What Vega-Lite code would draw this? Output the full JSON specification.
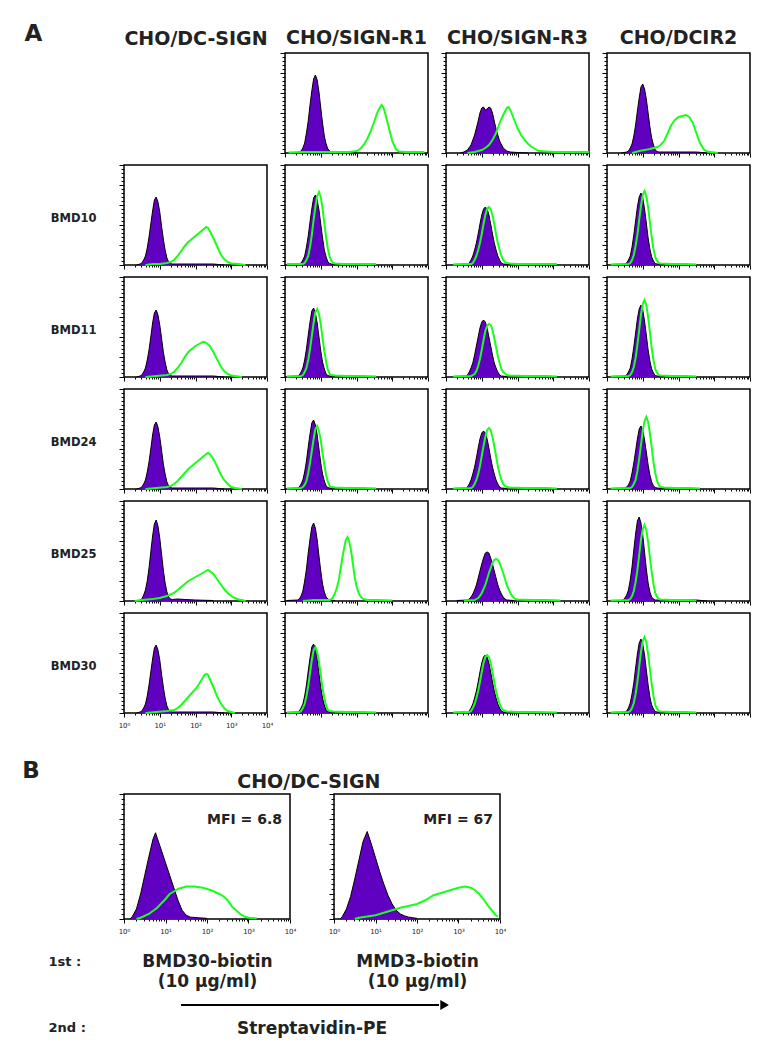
{
"$schema": "https://vega.github.io/schema/vega-lite/v6.json",
"background": "white",
"padding": {"left": 22, "top": 22, "right": 5, "bottom": 5},
"config": {
 "font": "DejaVu Sans",
 "view": {"stroke": "black", "strokeWidth": 1.5},
 "axis": {"grid": false, "domain": false, "labels": false, "ticks": true, "tickColor": "black", "tickWidth": 1, "titleFont": "DejaVu Sans", "titleFontWeight": "bold", "titleColor": "#222", "labelFont": "DejaVu Sans", "labelColor": "#222"},
 "title": {"font": "DejaVu Sans", "fontWeight": "bold", "color": "#222", "fontSize": 19, "offset": 5}
},
"datasets": {
 "h": [
  {"p":"a02","s":"c","x":[1.995,2.512,2.818,3.162,3.548,3.981,4.467,5.012,5.623,6.31,7.079,7.943,8.913,10,11.22,12.59,14.13,15.85,17.78,19.95,25.12,63.1,100],"y":[0,1,2,5,10,20,32,48,62,74,78,73,61,45,30,17,9,4,2,1,1,0.5,0]},
  {"p":"a02","s":"g","x":[1.259,3.162,10,31.62,63.1,100,125.9,158.5,199.5,251.2,316.2,398.1,501.2,562.3,631,794.3,1000,1259,1585,2512,7943],"y":[0.5,1,1,1,1,2,4,8,14,22,32,42,48,46,40,26,12,4,1.5,1,1]},
  {"p":"a03","s":"c","x":[2.512,3.162,3.981,5.012,6.31,7.943,8.913,10,11.22,12.59,14.13,15.85,17.78,19.95,22.39,25.12,31.62,39.81,50.12,63.1,100,199.5],"y":[0,1,3,8,18,32,40,45,46,43,44,46,45,40,32,24,12,5,2,1,0.5,0]},
  {"p":"a03","s":"g","x":[3.981,6.31,10,12.59,15.85,19.95,25.12,31.62,39.81,50.12,56.23,63.1,79.43,100,125.9,158.5,199.5,251.2,316.2,398.1,631,1000,3162,10000],"y":[0,1,3,5,8,13,20,30,38,45,46,43,34,25,18,13,9,6,4,2,1.5,1,1,1]},
  {"p":"a04","s":"c","x":[2.512,3.548,3.981,4.467,5.012,5.623,6.31,7.079,7.943,8.913,10,11.22,12.59,14.13,15.85,17.78,19.95,22.39,25.12,28.18,39.81,100,316.2,631],"y":[0,1,2,5,9,17,28,42,55,66,69,64,54,40,26,15,8,3,1.5,1,1,1,1,0]},
  {"p":"a04","s":"g","x":[5.012,7.943,15.85,25.12,31.62,39.81,50.12,63.1,79.43,100,125.9,158.5,199.5,251.2,316.2,398.1,501.2,631,794.3,1259],"y":[0,2,4,6,8,12,20,28,33,36,37,38,36,30,20,10,4,1.5,1,0]},
  {"p":"a11","s":"c","x":[2.239,2.818,3.162,3.548,3.981,4.467,5.012,5.623,6.31,7.079,7.943,8.913,10,11.22,12.59,14.13,15.85,17.78,19.95,22.39,31.62,100,316.2,631],"y":[0,1,2,5,9,17,28,41,54,65,68,63,53,39,26,15,7,3,1.5,1,1,1,1,0]},
  {"p":"a11","s":"g","x":[3.981,6.31,10,15.85,19.95,25.12,31.62,39.81,50.12,63.1,79.43,100,125.9,158.5,199.5,223.9,251.2,316.2,398.1,501.2,631,794.3,1000,1585,2512],"y":[0,1,1,2,3,5,9,14,19,23,26,29,32,35,38,37,34,27,19,11,6,3,1.5,1,0]},
  {"p":"a12","s":"c","x":[1.122,2.512,2.818,3.162,3.548,3.981,4.467,5.012,5.623,6.31,7.079,7.943,8.913,10,11.22,12.59,14.13,15.85,17.78,19.95,31.62],"y":[0.5,1,2,5,9,18,29,43,56,67,70,65,55,41,27,15,8,3,1.5,1,0.5]},
  {"p":"a12","s":"g","x":[1.122,3.162,3.548,3.981,4.467,5.012,5.623,6.31,7.079,7.943,8.913,10,11.22,12.59,14.13,15.85,17.78,19.95,22.39,25.12,39.81,100,354.8],"y":[1,1,2,5,9,18,30,45,58,69,73,68,57,42,28,16,8,4,2,1.5,1,1,1]},
  {"p":"a13","s":"c","x":[1.585,3.548,3.981,4.467,5.012,5.623,6.31,7.079,7.943,8.913,10,11.22,12.59,14.13,15.85,17.78,19.95,22.39,25.12,28.18,31.62,35.48,39.81,63.1],"y":[0.5,1,1,2,5,9,15,22,31,41,50,56,58,56,50,41,31,22,15,9,5,2,1,0.5]},
  {"p":"a13","s":"g","x":[1.585,4.467,5.012,5.623,6.31,7.079,7.943,8.913,10,11.22,12.59,14.13,15.85,17.78,19.95,22.39,25.12,28.18,31.62,35.48,39.81,44.67,50.12,63.1,100,316.2,1259],"y":[0.5,1,1,2,5,9,15,22,31,41,50,56,58,56,50,41,31,22,15,9,5,3,2,1.5,1,1,1]},
  {"p":"a14","s":"c","x":[1.259,3.162,3.548,3.981,4.467,5.012,5.623,6.31,7.079,7.943,8.913,10,11.22,12.59,14.13,15.85,17.78,19.95,22.39,25.12,39.81],"y":[0.5,1,2,5,9,18,30,44,58,68,72,67,56,42,27,16,8,4,1.5,1,0.5]},
  {"p":"a14","s":"g","x":[1.259,3.981,4.467,5.012,5.623,6.31,7.079,7.943,8.913,10,11.22,12.59,14.13,15.85,17.78,19.95,22.39,25.12,28.18,31.62,63.1,158.5,316.2],"y":[0.5,1,2,5,10,19,30,45,59,70,74,69,58,43,28,16,8,4,2,1.5,1,1,0.5]},
  {"p":"a21","s":"c","x":[2.239,2.818,3.162,3.548,3.981,4.467,5.012,5.623,6.31,7.079,7.943,8.913,10,11.22,12.59,14.13,15.85,17.78,19.95,22.39,31.62,100,316.2,631],"y":[0,1,2,5,9,17,27,40,54,64,67,62,52,39,25,15,7,3,1.5,1,1,1,1,0]},
  {"p":"a21","s":"g","x":[3.981,7.943,15.85,19.95,25.12,31.62,39.81,50.12,63.1,79.43,100,125.9,158.5,177.8,199.5,251.2,316.2,398.1,501.2,631,794.3,1000,1259,1995],"y":[0,1,2,3,5,9,14,20,25,28,31,33,35,35,34,31,25,18,11,6,3,1.5,1,0]},
  {"p":"a22","s":"c","x":[1.122,2.239,2.512,2.818,3.162,3.548,3.981,4.467,5.012,5.623,6.31,7.079,7.943,8.913,10,11.22,12.59,14.13,15.85,17.78,25.12],"y":[0.5,1,2,5,9,17,28,42,55,66,69,64,54,40,26,15,8,3,1.5,1,0.5]},
  {"p":"a22","s":"g","x":[1.122,2.818,3.162,3.548,3.981,4.467,5.012,5.623,6.31,7.079,7.943,8.913,10,11.22,12.59,14.13,15.85,17.78,19.95,25.12,50.12,158.5,354.8],"y":[0.5,1,2,5,9,17,28,41,54,65,68,63,53,39,26,15,7,3,2,1.5,1,1,0.5]},
  {"p":"a23","s":"c","x":[1.585,3.548,3.981,4.467,5.012,5.623,6.31,7.079,7.943,8.913,10,11.22,12.59,14.13,15.85,17.78,19.95,22.39,25.12,28.18,31.62,35.48,50.12],"y":[0.5,1,2,5,9,14,22,31,40,49,55,57,55,49,40,31,22,14,9,5,2,1,0.5]},
  {"p":"a23","s":"g","x":[1.585,5.012,6.31,7.079,7.943,8.913,10,11.22,12.59,14.13,15.85,17.78,19.95,22.39,25.12,28.18,31.62,35.48,39.81,50.12,63.1,158.5,631,1259],"y":[0.5,1,3,6,11,18,27,37,46,51,53,52,47,39,30,21,14,8,5,2,1.5,1,1,0.5]},
  {"p":"a24","s":"c","x":[1.259,3.162,3.548,3.981,4.467,5.012,5.623,6.31,7.079,7.943,8.913,10,11.22,12.59,14.13,15.85,17.78,19.95,22.39,25.12,39.81],"y":[0.5,1,2,5,9,18,30,44,58,68,72,67,56,42,27,16,8,4,1.5,1,0.5]},
  {"p":"a24","s":"g","x":[1.259,3.981,4.467,5.012,5.623,6.31,7.079,7.943,8.913,10,11.22,12.59,14.13,15.85,17.78,19.95,22.39,25.12,28.18,31.62,63.1,158.5,316.2],"y":[0.5,1,2,5,10,19,32,47,62,73,77,72,60,45,29,17,8,4,2,1.5,1,1,0.5]},
  {"p":"a31","s":"c","x":[2.239,2.818,3.162,3.548,3.981,4.467,5.012,5.623,6.31,7.079,7.943,8.913,10,11.22,12.59,14.13,15.85,17.78,19.95,22.39,31.62,100,316.2,631],"y":[0,1,2,5,9,17,27,40,54,64,67,62,52,39,25,15,7,3,1.5,1,1,1,1,0]},
  {"p":"a31","s":"g","x":[3.981,7.943,15.85,19.95,25.12,31.62,39.81,50.12,63.1,79.43,100,125.9,158.5,199.5,223.9,251.2,316.2,398.1,501.2,631,794.3,1000,1259,1995],"y":[0,1,2,3,5,8,12,16,20,23,26,29,32,35,36,35,30,23,15,9,5,2,1,0]},
  {"p":"a32","s":"c","x":[1.122,2.239,2.512,2.818,3.162,3.548,3.981,4.467,5.012,5.623,6.31,7.079,7.943,8.913,10,11.22,12.59,14.13,15.85,17.78,25.12],"y":[0.5,1,2,5,9,17,28,42,55,66,69,64,54,40,26,15,8,3,1.5,1,0.5]},
  {"p":"a32","s":"g","x":[1.122,2.818,3.162,3.548,3.981,4.467,5.012,5.623,6.31,7.079,7.943,8.913,10,11.22,12.59,14.13,15.85,17.78,19.95,25.12,50.12,158.5,354.8],"y":[0.5,1,2,4,8,16,26,38,50,60,63,58,49,36,24,14,7,3,2,1.5,1,1,0.5]},
  {"p":"a33","s":"c","x":[1.585,3.548,3.981,4.467,5.012,5.623,6.31,7.079,7.943,8.913,10,11.22,12.59,14.13,15.85,17.78,19.95,22.39,25.12,28.18,31.62,35.48,50.12],"y":[0.5,1,2,5,9,15,22,31,41,50,56,58,56,50,41,31,22,15,9,5,2,1,0.5]},
  {"p":"a33","s":"g","x":[1.585,5.012,5.623,6.31,7.079,7.943,8.913,10,11.22,12.59,14.13,15.85,17.78,19.95,22.39,25.12,28.18,31.62,35.48,39.81,44.67,50.12,63.1,158.5,631,1259],"y":[0.5,1,2,5,9,15,23,33,43,52,59,61,59,52,43,33,23,15,9,5,3,2,1.5,1,1,0.5]},
  {"p":"a34","s":"c","x":[1.259,3.162,3.548,3.981,4.467,5.012,5.623,6.31,7.079,7.943,8.913,10,11.22,12.59,14.13,15.85,17.78,19.95,22.39,25.12,39.81],"y":[0.5,1,2,4,8,16,26,38,50,60,63,59,49,37,24,14,7,3,1.5,1,0.5]},
  {"p":"a34","s":"g","x":[1.259,4.467,5.012,5.623,6.31,7.079,7.943,8.913,10,11.22,12.59,14.13,15.85,17.78,19.95,22.39,25.12,28.18,31.62,39.81,79.43,199.5,398.1],"y":[0.5,1,2,5,9,18,30,44,58,68,72,67,56,42,27,16,8,4,2,1.5,1,1,0.5]},
  {"p":"a41","s":"c","x":[2.239,2.818,3.162,3.548,3.981,4.467,5.012,5.623,6.31,7.079,7.943,8.913,10,11.22,12.59,14.13,15.85,17.78,19.95,22.39,31.62,50.12,100,316.2],"y":[0,1,2,6,11,20,33,49,65,77,81,75,63,47,31,18,9,4,2,1.5,2,1.5,1,0.5]},
  {"p":"a41","s":"g","x":[1.995,3.162,6.31,10,15.85,25.12,31.62,39.81,50.12,63.1,79.43,100,125.9,158.5,199.5,223.9,251.2,316.2,398.1,501.2,631,794.3,1000,1259,1585,1995,2512],"y":[0,1,2,3,5,8,11,14,17,20,22,24,26,28,30,31,30,27,22,17,12,8,5,3,1.5,1,0]},
  {"p":"a42","s":"c","x":[1.122,2.239,2.512,2.818,3.162,3.548,3.981,4.467,5.012,5.623,6.31,7.079,7.943,8.913,10,11.22,12.59,14.13,15.85,17.78,25.12],"y":[0.5,1,2,5,10,20,32,48,62,74,78,73,61,45,30,17,9,4,2,1,0.5]},
  {"p":"a42","s":"g","x":[3.162,6.31,12.59,17.78,19.95,22.39,25.12,28.18,31.62,35.48,39.81,44.67,50.12,56.23,63.1,70.79,79.43,89.13,100,112.2,125.9,141.3,158.5,199.5,398.1,1000],"y":[0,1,1,1,2,4,8,13,20,31,42,52,61,64,59,50,37,24,15,9,5,3,2,1,1,0.5]},
  {"p":"a43","s":"c","x":[1.995,3.981,4.467,5.012,5.623,6.31,7.079,7.943,8.913,10,11.22,12.59,14.13,15.85,17.78,19.95,22.39,25.12,28.18,31.62,35.48,39.81,44.67,50.12,79.43],"y":[0.5,1,2,4,7,11,16,23,30,37,43,48,49,48,43,37,30,23,16,11,7,4,2,1,0.5]},
  {"p":"a43","s":"g","x":[3.162,6.31,7.079,7.943,8.913,10,11.22,12.59,14.13,15.85,17.78,19.95,22.39,25.12,28.18,31.62,35.48,39.81,44.67,50.12,56.23,63.1,70.79,79.43,89.13,100,251.2,631,1585],"y":[0.5,1,2,3,5,8,12,16,22,28,33,38,41,42,41,38,33,28,22,16,12,8,5,3,2,1.5,1,1,0.5]},
  {"p":"a44","s":"c","x":[2.239,2.818,3.162,3.548,3.981,4.467,5.012,5.623,6.31,7.079,7.943,8.913,10,11.22,12.59,14.13,15.85,17.78,19.95,22.39,31.62,100,316.2,631],"y":[0,1,3,6,11,21,34,51,67,80,84,78,66,49,32,18,9,4,2,1,1,1,1,0]},
  {"p":"a44","s":"g","x":[1.259,3.981,4.467,5.012,5.623,6.31,7.079,7.943,8.913,10,11.22,12.59,14.13,15.85,17.78,19.95,22.39,25.12,28.18,31.62,63.1,158.5,316.2],"y":[0.5,1,2,5,10,19,31,46,61,72,76,71,59,44,29,17,8,4,2,1.5,1,1,0.5]},
  {"p":"a51","s":"c","x":[2.239,2.818,3.162,3.548,3.981,4.467,5.012,5.623,6.31,7.079,7.943,8.913,10,11.22,12.59,14.13,15.85,17.78,19.95,22.39,31.62,100,316.2,631],"y":[0,1,2,5,9,17,28,41,54,65,68,63,53,39,26,15,7,3,1.5,1,1,1,1,0]},
  {"p":"a51","s":"g","x":[3.981,7.943,15.85,25.12,31.62,39.81,50.12,63.1,79.43,100,125.9,158.5,177.8,199.5,223.9,251.2,316.2,398.1,501.2,631,794.3,1000,1259],"y":[0,1,2,3,5,8,12,16,20,24,29,35,38,39,38,34,26,17,10,5,2,1,0]},
  {"p":"a52","s":"c","x":[1.122,2.239,2.512,2.818,3.162,3.548,3.981,4.467,5.012,5.623,6.31,7.079,7.943,8.913,10,11.22,12.59,14.13,15.85,17.78,25.12],"y":[0.5,1,2,5,9,17,28,42,55,66,69,64,54,40,26,15,8,3,1.5,1,0.5]},
  {"p":"a52","s":"g","x":[1.122,2.512,2.818,3.162,3.548,3.981,4.467,5.012,5.623,6.31,7.079,7.943,8.913,10,11.22,12.59,14.13,15.85,17.78,22.39,50.12,158.5,354.8],"y":[0.5,1,2,5,9,17,27,40,53,63,66,61,51,38,25,15,7,3,2,1.5,1,1,0.5]},
  {"p":"a53","s":"c","x":[1.585,3.548,3.981,4.467,5.012,5.623,6.31,7.079,7.943,8.913,10,11.22,12.59,14.13,15.85,17.78,19.95,22.39,25.12,28.18,31.62,35.48,39.81,63.1],"y":[0.5,1,1,2,5,9,15,22,31,41,50,56,58,56,50,41,31,22,15,9,5,2,1,0.5]},
  {"p":"a53","s":"g","x":[1.585,3.981,4.467,5.012,5.623,6.31,7.079,7.943,8.913,10,11.22,12.59,14.13,15.85,17.78,19.95,22.39,25.12,28.18,31.62,35.48,39.81,50.12,100,316.2,1259],"y":[0.5,1,1,2,5,9,15,22,31,41,50,56,58,56,50,41,31,22,15,9,5,3,1.5,1,1,0.5]},
  {"p":"a54","s":"c","x":[1.259,3.162,3.548,3.981,4.467,5.012,5.623,6.31,7.079,7.943,8.913,10,11.22,12.59,14.13,15.85,17.78,19.95,22.39,25.12,39.81],"y":[0.5,1,2,5,10,19,30,45,59,70,74,69,58,43,28,16,8,4,1.5,1,0.5]},
  {"p":"a54","s":"g","x":[1.259,3.981,4.467,5.012,5.623,6.31,7.079,7.943,8.913,10,11.22,12.59,14.13,15.85,17.78,19.95,22.39,25.12,28.18,31.62,63.1,158.5,316.2],"y":[0.5,1,2,5,10,19,31,46,61,72,76,71,59,44,29,17,8,4,2,1.5,1,1,0.5]},
  {"p":"b1","s":"c","x":[1.413,1.585,1.995,2.512,3.162,3.981,5.012,5.754,6.31,7.943,10,12.59,15.85,19.95,25.12,31.62,39.81,63.1,100],"y":[0,2,8,20,35,50,64,69,65,55,45,35,25,15,7,3,1.5,1,0.5]},
  {"p":"b1","s":"g","x":[1.995,2.512,3.981,6.31,10,12.59,15.85,19.95,25.12,31.62,50.12,79.43,125.9,199.5,251.2,316.2,398.1,501.2,631,794.3,1000,1585],"y":[0,1,4,9,16,20,22,24,25,26,26,25,23,20,18,15,10,7,4,2,1,0.5]},
  {"p":"b2","s":"c","x":[1.413,1.585,1.995,2.512,3.162,3.981,5.012,6.31,7.943,10,12.59,15.85,19.95,25.12,31.62,39.81,50.12,63.1,79.43,100],"y":[0,2,8,18,32,47,62,70,60,49,38,28,19,12,7,4,2.5,1.5,1,0.5]},
  {"p":"b2","s":"g","x":[3.162,3.981,6.31,10,15.85,25.12,39.81,100,158.5,251.2,398.1,631,1000,1413,1995,2512,3162,3981,5012,6310,7943,8913],"y":[0,1,2,3,5,7,9,12,15,19,21,23,25,26,25,23,20,16,11,7,3,2]}
 ],
 "arrow": [{"k":"s","t":0.152},{"k":"s","t":0.84},{"k":"h","t":0.855}]
},
"spacing": 30,
"vconcat": [
 {
  "columns": 4,
  "bounds": "flush",
  "spacing": {"row": 12, "column": 18},
  "concat": [
   {"width":143,"height":100,"view":{"stroke":null},"data":{"values":[]},"mark":"point",
    "encoding":{
     "x":{"field":"x","type":"quantitative","scale":{"domain":[0,1]},"axis":{"orient":"top","title":"CHO/DC-SIGN","titleFontSize":19,"titleAlign":"center","titleBaseline":"bottom","titleX":71.5,"titleY":-5,"ticks":false,"labels":false}},
     "y":{"field":"y","type":"quantitative","scale":{"domain":[0,100]},"axis":{"title":"A","titleAngle":0,"titleAlign":"left","titleBaseline":"middle","titleX":-100,"titleY":-20,"titleFontSize":23,"ticks":false,"labels":false}}}},
   {"width":143,"height":100,"title":{"text":"CHO/SIGN-R1"},"data":{"name":"h"},"transform":[{"filter":"datum.p=='a02'"},{"flatten":["x","y"]}],
    "encoding":{"x":{"field":"x","type":"quantitative","scale":{"type":"log","domain":[1,10000],"nice":false},"axis":{"title":null,"values":[1,2,3,4,5,6,7,8,9,10,20,30,40,50,60,70,80,90,100,200,300,400,500,600,700,800,900,1000,2000,3000,4000,5000,6000,7000,8000,9000,10000],"tickSize":{"condition":{"test":"indexof([1,10,100,1000,10000],datum.value)>=0","value":4},"value":2}}},
     "y":{"field":"y","type":"quantitative","scale":{"domain":[0,100],"nice":false},"axis":{"title":null,"values":[0,4,8,12,16,20,24,28,32,36,40,44,48,52,56,60,64,68,72,76,80,84,88,92,96,100],"tickSize":{"condition":{"test":"datum.value%20==0","value":5},"value":3}}}},
    "layer":[{"transform":[{"filter":"datum.s=='c'"}],"mark":{"type":"area","color":"#6000c0","opacity":1,"line":{"color":"black","strokeWidth":1}}},{"transform":[{"filter":"datum.s=='g'"}],"mark":{"type":"line","color":"#1aff1a","strokeWidth":2}}]},
   {"width":143,"height":100,"title":{"text":"CHO/SIGN-R3"},"data":{"name":"h"},"transform":[{"filter":"datum.p=='a03'"},{"flatten":["x","y"]}],
    "encoding":{"x":{"field":"x","type":"quantitative","scale":{"type":"log","domain":[1,10000],"nice":false},"axis":{"title":null,"values":[1,2,3,4,5,6,7,8,9,10,20,30,40,50,60,70,80,90,100,200,300,400,500,600,700,800,900,1000,2000,3000,4000,5000,6000,7000,8000,9000,10000],"tickSize":{"condition":{"test":"indexof([1,10,100,1000,10000],datum.value)>=0","value":4},"value":2}}},
     "y":{"field":"y","type":"quantitative","scale":{"domain":[0,100],"nice":false},"axis":{"title":null,"values":[0,4,8,12,16,20,24,28,32,36,40,44,48,52,56,60,64,68,72,76,80,84,88,92,96,100],"tickSize":{"condition":{"test":"datum.value%20==0","value":5},"value":3}}}},
    "layer":[{"transform":[{"filter":"datum.s=='c'"}],"mark":{"type":"area","color":"#6000c0","opacity":1,"line":{"color":"black","strokeWidth":1}}},{"transform":[{"filter":"datum.s=='g'"}],"mark":{"type":"line","color":"#1aff1a","strokeWidth":2}}]},
   {"width":143,"height":100,"title":{"text":"CHO/DCIR2"},"data":{"name":"h"},"transform":[{"filter":"datum.p=='a04'"},{"flatten":["x","y"]}],
    "encoding":{"x":{"field":"x","type":"quantitative","scale":{"type":"log","domain":[1,10000],"nice":false},"axis":{"title":null,"values":[1,2,3,4,5,6,7,8,9,10,20,30,40,50,60,70,80,90,100,200,300,400,500,600,700,800,900,1000,2000,3000,4000,5000,6000,7000,8000,9000,10000],"tickSize":{"condition":{"test":"indexof([1,10,100,1000,10000],datum.value)>=0","value":4},"value":2}}},
     "y":{"field":"y","type":"quantitative","scale":{"domain":[0,100],"nice":false},"axis":{"title":null,"values":[0,4,8,12,16,20,24,28,32,36,40,44,48,52,56,60,64,68,72,76,80,84,88,92,96,100],"tickSize":{"condition":{"test":"datum.value%20==0","value":5},"value":3}}}},
    "layer":[{"transform":[{"filter":"datum.s=='c'"}],"mark":{"type":"area","color":"#6000c0","opacity":1,"line":{"color":"black","strokeWidth":1}}},{"transform":[{"filter":"datum.s=='g'"}],"mark":{"type":"line","color":"#1aff1a","strokeWidth":2}}]},

   {"width":143,"height":100,"data":{"name":"h"},"transform":[{"filter":"datum.p=='a11'"},{"flatten":["x","y"]}],
    "encoding":{"x":{"field":"x","type":"quantitative","scale":{"type":"log","domain":[1,10000],"nice":false},"axis":{"title":null,"values":[1,2,3,4,5,6,7,8,9,10,20,30,40,50,60,70,80,90,100,200,300,400,500,600,700,800,900,1000,2000,3000,4000,5000,6000,7000,8000,9000,10000],"tickSize":{"condition":{"test":"indexof([1,10,100,1000,10000],datum.value)>=0","value":4},"value":2}}},
     "y":{"field":"y","type":"quantitative","scale":{"domain":[0,100],"nice":false},"axis":{"title":"BMD10","titleAngle":0,"titleAlign":"right","titleBaseline":"middle","titleX":-28,"titleY":53,"titleFontSize":11.5,"values":[0,4,8,12,16,20,24,28,32,36,40,44,48,52,56,60,64,68,72,76,80,84,88,92,96,100],"tickSize":{"condition":{"test":"datum.value%20==0","value":5},"value":3}}}},
    "layer":[{"transform":[{"filter":"datum.s=='c'"}],"mark":{"type":"area","color":"#6000c0","opacity":1,"line":{"color":"black","strokeWidth":1}}},{"transform":[{"filter":"datum.s=='g'"}],"mark":{"type":"line","color":"#1aff1a","strokeWidth":2}}]},
   {"width":143,"height":100,"data":{"name":"h"},"transform":[{"filter":"datum.p=='a12'"},{"flatten":["x","y"]}],
    "encoding":{"x":{"field":"x","type":"quantitative","scale":{"type":"log","domain":[1,10000],"nice":false},"axis":{"title":null,"values":[1,2,3,4,5,6,7,8,9,10,20,30,40,50,60,70,80,90,100,200,300,400,500,600,700,800,900,1000,2000,3000,4000,5000,6000,7000,8000,9000,10000],"tickSize":{"condition":{"test":"indexof([1,10,100,1000,10000],datum.value)>=0","value":4},"value":2}}},
     "y":{"field":"y","type":"quantitative","scale":{"domain":[0,100],"nice":false},"axis":{"title":null,"values":[0,4,8,12,16,20,24,28,32,36,40,44,48,52,56,60,64,68,72,76,80,84,88,92,96,100],"tickSize":{"condition":{"test":"datum.value%20==0","value":5},"value":3}}}},
    "layer":[{"transform":[{"filter":"datum.s=='c'"}],"mark":{"type":"area","color":"#6000c0","opacity":1,"line":{"color":"black","strokeWidth":1}}},{"transform":[{"filter":"datum.s=='g'"}],"mark":{"type":"line","color":"#1aff1a","strokeWidth":2}}]},
   {"width":143,"height":100,"data":{"name":"h"},"transform":[{"filter":"datum.p=='a13'"},{"flatten":["x","y"]}],
    "encoding":{"x":{"field":"x","type":"quantitative","scale":{"type":"log","domain":[1,10000],"nice":false},"axis":{"title":null,"values":[1,2,3,4,5,6,7,8,9,10,20,30,40,50,60,70,80,90,100,200,300,400,500,600,700,800,900,1000,2000,3000,4000,5000,6000,7000,8000,9000,10000],"tickSize":{"condition":{"test":"indexof([1,10,100,1000,10000],datum.value)>=0","value":4},"value":2}}},
     "y":{"field":"y","type":"quantitative","scale":{"domain":[0,100],"nice":false},"axis":{"title":null,"values":[0,4,8,12,16,20,24,28,32,36,40,44,48,52,56,60,64,68,72,76,80,84,88,92,96,100],"tickSize":{"condition":{"test":"datum.value%20==0","value":5},"value":3}}}},
    "layer":[{"transform":[{"filter":"datum.s=='c'"}],"mark":{"type":"area","color":"#6000c0","opacity":1,"line":{"color":"black","strokeWidth":1}}},{"transform":[{"filter":"datum.s=='g'"}],"mark":{"type":"line","color":"#1aff1a","strokeWidth":2}}]},
   {"width":143,"height":100,"data":{"name":"h"},"transform":[{"filter":"datum.p=='a14'"},{"flatten":["x","y"]}],
    "encoding":{"x":{"field":"x","type":"quantitative","scale":{"type":"log","domain":[1,10000],"nice":false},"axis":{"title":null,"values":[1,2,3,4,5,6,7,8,9,10,20,30,40,50,60,70,80,90,100,200,300,400,500,600,700,800,900,1000,2000,3000,4000,5000,6000,7000,8000,9000,10000],"tickSize":{"condition":{"test":"indexof([1,10,100,1000,10000],datum.value)>=0","value":4},"value":2}}},
     "y":{"field":"y","type":"quantitative","scale":{"domain":[0,100],"nice":false},"axis":{"title":null,"values":[0,4,8,12,16,20,24,28,32,36,40,44,48,52,56,60,64,68,72,76,80,84,88,92,96,100],"tickSize":{"condition":{"test":"datum.value%20==0","value":5},"value":3}}}},
    "layer":[{"transform":[{"filter":"datum.s=='c'"}],"mark":{"type":"area","color":"#6000c0","opacity":1,"line":{"color":"black","strokeWidth":1}}},{"transform":[{"filter":"datum.s=='g'"}],"mark":{"type":"line","color":"#1aff1a","strokeWidth":2}}]},

   {"width":143,"height":100,"data":{"name":"h"},"transform":[{"filter":"datum.p=='a21'"},{"flatten":["x","y"]}],
    "encoding":{"x":{"field":"x","type":"quantitative","scale":{"type":"log","domain":[1,10000],"nice":false},"axis":{"title":null,"values":[1,2,3,4,5,6,7,8,9,10,20,30,40,50,60,70,80,90,100,200,300,400,500,600,700,800,900,1000,2000,3000,4000,5000,6000,7000,8000,9000,10000],"tickSize":{"condition":{"test":"indexof([1,10,100,1000,10000],datum.value)>=0","value":4},"value":2}}},
     "y":{"field":"y","type":"quantitative","scale":{"domain":[0,100],"nice":false},"axis":{"title":"BMD11","titleAngle":0,"titleAlign":"right","titleBaseline":"middle","titleX":-28,"titleY":53,"titleFontSize":11.5,"values":[0,4,8,12,16,20,24,28,32,36,40,44,48,52,56,60,64,68,72,76,80,84,88,92,96,100],"tickSize":{"condition":{"test":"datum.value%20==0","value":5},"value":3}}}},
    "layer":[{"transform":[{"filter":"datum.s=='c'"}],"mark":{"type":"area","color":"#6000c0","opacity":1,"line":{"color":"black","strokeWidth":1}}},{"transform":[{"filter":"datum.s=='g'"}],"mark":{"type":"line","color":"#1aff1a","strokeWidth":2}}]},
   {"width":143,"height":100,"data":{"name":"h"},"transform":[{"filter":"datum.p=='a22'"},{"flatten":["x","y"]}],
    "encoding":{"x":{"field":"x","type":"quantitative","scale":{"type":"log","domain":[1,10000],"nice":false},"axis":{"title":null,"values":[1,2,3,4,5,6,7,8,9,10,20,30,40,50,60,70,80,90,100,200,300,400,500,600,700,800,900,1000,2000,3000,4000,5000,6000,7000,8000,9000,10000],"tickSize":{"condition":{"test":"indexof([1,10,100,1000,10000],datum.value)>=0","value":4},"value":2}}},
     "y":{"field":"y","type":"quantitative","scale":{"domain":[0,100],"nice":false},"axis":{"title":null,"values":[0,4,8,12,16,20,24,28,32,36,40,44,48,52,56,60,64,68,72,76,80,84,88,92,96,100],"tickSize":{"condition":{"test":"datum.value%20==0","value":5},"value":3}}}},
    "layer":[{"transform":[{"filter":"datum.s=='c'"}],"mark":{"type":"area","color":"#6000c0","opacity":1,"line":{"color":"black","strokeWidth":1}}},{"transform":[{"filter":"datum.s=='g'"}],"mark":{"type":"line","color":"#1aff1a","strokeWidth":2}}]},
   {"width":143,"height":100,"data":{"name":"h"},"transform":[{"filter":"datum.p=='a23'"},{"flatten":["x","y"]}],
    "encoding":{"x":{"field":"x","type":"quantitative","scale":{"type":"log","domain":[1,10000],"nice":false},"axis":{"title":null,"values":[1,2,3,4,5,6,7,8,9,10,20,30,40,50,60,70,80,90,100,200,300,400,500,600,700,800,900,1000,2000,3000,4000,5000,6000,7000,8000,9000,10000],"tickSize":{"condition":{"test":"indexof([1,10,100,1000,10000],datum.value)>=0","value":4},"value":2}}},
     "y":{"field":"y","type":"quantitative","scale":{"domain":[0,100],"nice":false},"axis":{"title":null,"values":[0,4,8,12,16,20,24,28,32,36,40,44,48,52,56,60,64,68,72,76,80,84,88,92,96,100],"tickSize":{"condition":{"test":"datum.value%20==0","value":5},"value":3}}}},
    "layer":[{"transform":[{"filter":"datum.s=='c'"}],"mark":{"type":"area","color":"#6000c0","opacity":1,"line":{"color":"black","strokeWidth":1}}},{"transform":[{"filter":"datum.s=='g'"}],"mark":{"type":"line","color":"#1aff1a","strokeWidth":2}}]},
   {"width":143,"height":100,"data":{"name":"h"},"transform":[{"filter":"datum.p=='a24'"},{"flatten":["x","y"]}],
    "encoding":{"x":{"field":"x","type":"quantitative","scale":{"type":"log","domain":[1,10000],"nice":false},"axis":{"title":null,"values":[1,2,3,4,5,6,7,8,9,10,20,30,40,50,60,70,80,90,100,200,300,400,500,600,700,800,900,1000,2000,3000,4000,5000,6000,7000,8000,9000,10000],"tickSize":{"condition":{"test":"indexof([1,10,100,1000,10000],datum.value)>=0","value":4},"value":2}}},
     "y":{"field":"y","type":"quantitative","scale":{"domain":[0,100],"nice":false},"axis":{"title":null,"values":[0,4,8,12,16,20,24,28,32,36,40,44,48,52,56,60,64,68,72,76,80,84,88,92,96,100],"tickSize":{"condition":{"test":"datum.value%20==0","value":5},"value":3}}}},
    "layer":[{"transform":[{"filter":"datum.s=='c'"}],"mark":{"type":"area","color":"#6000c0","opacity":1,"line":{"color":"black","strokeWidth":1}}},{"transform":[{"filter":"datum.s=='g'"}],"mark":{"type":"line","color":"#1aff1a","strokeWidth":2}}]},

   {"width":143,"height":100,"data":{"name":"h"},"transform":[{"filter":"datum.p=='a31'"},{"flatten":["x","y"]}],
    "encoding":{"x":{"field":"x","type":"quantitative","scale":{"type":"log","domain":[1,10000],"nice":false},"axis":{"title":null,"values":[1,2,3,4,5,6,7,8,9,10,20,30,40,50,60,70,80,90,100,200,300,400,500,600,700,800,900,1000,2000,3000,4000,5000,6000,7000,8000,9000,10000],"tickSize":{"condition":{"test":"indexof([1,10,100,1000,10000],datum.value)>=0","value":4},"value":2}}},
     "y":{"field":"y","type":"quantitative","scale":{"domain":[0,100],"nice":false},"axis":{"title":"BMD24","titleAngle":0,"titleAlign":"right","titleBaseline":"middle","titleX":-28,"titleY":53,"titleFontSize":11.5,"values":[0,4,8,12,16,20,24,28,32,36,40,44,48,52,56,60,64,68,72,76,80,84,88,92,96,100],"tickSize":{"condition":{"test":"datum.value%20==0","value":5},"value":3}}}},
    "layer":[{"transform":[{"filter":"datum.s=='c'"}],"mark":{"type":"area","color":"#6000c0","opacity":1,"line":{"color":"black","strokeWidth":1}}},{"transform":[{"filter":"datum.s=='g'"}],"mark":{"type":"line","color":"#1aff1a","strokeWidth":2}}]},
   {"width":143,"height":100,"data":{"name":"h"},"transform":[{"filter":"datum.p=='a32'"},{"flatten":["x","y"]}],
    "encoding":{"x":{"field":"x","type":"quantitative","scale":{"type":"log","domain":[1,10000],"nice":false},"axis":{"title":null,"values":[1,2,3,4,5,6,7,8,9,10,20,30,40,50,60,70,80,90,100,200,300,400,500,600,700,800,900,1000,2000,3000,4000,5000,6000,7000,8000,9000,10000],"tickSize":{"condition":{"test":"indexof([1,10,100,1000,10000],datum.value)>=0","value":4},"value":2}}},
     "y":{"field":"y","type":"quantitative","scale":{"domain":[0,100],"nice":false},"axis":{"title":null,"values":[0,4,8,12,16,20,24,28,32,36,40,44,48,52,56,60,64,68,72,76,80,84,88,92,96,100],"tickSize":{"condition":{"test":"datum.value%20==0","value":5},"value":3}}}},
    "layer":[{"transform":[{"filter":"datum.s=='c'"}],"mark":{"type":"area","color":"#6000c0","opacity":1,"line":{"color":"black","strokeWidth":1}}},{"transform":[{"filter":"datum.s=='g'"}],"mark":{"type":"line","color":"#1aff1a","strokeWidth":2}}]},
   {"width":143,"height":100,"data":{"name":"h"},"transform":[{"filter":"datum.p=='a33'"},{"flatten":["x","y"]}],
    "encoding":{"x":{"field":"x","type":"quantitative","scale":{"type":"log","domain":[1,10000],"nice":false},"axis":{"title":null,"values":[1,2,3,4,5,6,7,8,9,10,20,30,40,50,60,70,80,90,100,200,300,400,500,600,700,800,900,1000,2000,3000,4000,5000,6000,7000,8000,9000,10000],"tickSize":{"condition":{"test":"indexof([1,10,100,1000,10000],datum.value)>=0","value":4},"value":2}}},
     "y":{"field":"y","type":"quantitative","scale":{"domain":[0,100],"nice":false},"axis":{"title":null,"values":[0,4,8,12,16,20,24,28,32,36,40,44,48,52,56,60,64,68,72,76,80,84,88,92,96,100],"tickSize":{"condition":{"test":"datum.value%20==0","value":5},"value":3}}}},
    "layer":[{"transform":[{"filter":"datum.s=='c'"}],"mark":{"type":"area","color":"#6000c0","opacity":1,"line":{"color":"black","strokeWidth":1}}},{"transform":[{"filter":"datum.s=='g'"}],"mark":{"type":"line","color":"#1aff1a","strokeWidth":2}}]},
   {"width":143,"height":100,"data":{"name":"h"},"transform":[{"filter":"datum.p=='a34'"},{"flatten":["x","y"]}],
    "encoding":{"x":{"field":"x","type":"quantitative","scale":{"type":"log","domain":[1,10000],"nice":false},"axis":{"title":null,"values":[1,2,3,4,5,6,7,8,9,10,20,30,40,50,60,70,80,90,100,200,300,400,500,600,700,800,900,1000,2000,3000,4000,5000,6000,7000,8000,9000,10000],"tickSize":{"condition":{"test":"indexof([1,10,100,1000,10000],datum.value)>=0","value":4},"value":2}}},
     "y":{"field":"y","type":"quantitative","scale":{"domain":[0,100],"nice":false},"axis":{"title":null,"values":[0,4,8,12,16,20,24,28,32,36,40,44,48,52,56,60,64,68,72,76,80,84,88,92,96,100],"tickSize":{"condition":{"test":"datum.value%20==0","value":5},"value":3}}}},
    "layer":[{"transform":[{"filter":"datum.s=='c'"}],"mark":{"type":"area","color":"#6000c0","opacity":1,"line":{"color":"black","strokeWidth":1}}},{"transform":[{"filter":"datum.s=='g'"}],"mark":{"type":"line","color":"#1aff1a","strokeWidth":2}}]},

   {"width":143,"height":100,"data":{"name":"h"},"transform":[{"filter":"datum.p=='a41'"},{"flatten":["x","y"]}],
    "encoding":{"x":{"field":"x","type":"quantitative","scale":{"type":"log","domain":[1,10000],"nice":false},"axis":{"title":null,"values":[1,2,3,4,5,6,7,8,9,10,20,30,40,50,60,70,80,90,100,200,300,400,500,600,700,800,900,1000,2000,3000,4000,5000,6000,7000,8000,9000,10000],"tickSize":{"condition":{"test":"indexof([1,10,100,1000,10000],datum.value)>=0","value":4},"value":2}}},
     "y":{"field":"y","type":"quantitative","scale":{"domain":[0,100],"nice":false},"axis":{"title":"BMD25","titleAngle":0,"titleAlign":"right","titleBaseline":"middle","titleX":-28,"titleY":53,"titleFontSize":11.5,"values":[0,4,8,12,16,20,24,28,32,36,40,44,48,52,56,60,64,68,72,76,80,84,88,92,96,100],"tickSize":{"condition":{"test":"datum.value%20==0","value":5},"value":3}}}},
    "layer":[{"transform":[{"filter":"datum.s=='c'"}],"mark":{"type":"area","color":"#6000c0","opacity":1,"line":{"color":"black","strokeWidth":1}}},{"transform":[{"filter":"datum.s=='g'"}],"mark":{"type":"line","color":"#1aff1a","strokeWidth":2}}]},
   {"width":143,"height":100,"data":{"name":"h"},"transform":[{"filter":"datum.p=='a42'"},{"flatten":["x","y"]}],
    "encoding":{"x":{"field":"x","type":"quantitative","scale":{"type":"log","domain":[1,10000],"nice":false},"axis":{"title":null,"values":[1,2,3,4,5,6,7,8,9,10,20,30,40,50,60,70,80,90,100,200,300,400,500,600,700,800,900,1000,2000,3000,4000,5000,6000,7000,8000,9000,10000],"tickSize":{"condition":{"test":"indexof([1,10,100,1000,10000],datum.value)>=0","value":4},"value":2}}},
     "y":{"field":"y","type":"quantitative","scale":{"domain":[0,100],"nice":false},"axis":{"title":null,"values":[0,4,8,12,16,20,24,28,32,36,40,44,48,52,56,60,64,68,72,76,80,84,88,92,96,100],"tickSize":{"condition":{"test":"datum.value%20==0","value":5},"value":3}}}},
    "layer":[{"transform":[{"filter":"datum.s=='c'"}],"mark":{"type":"area","color":"#6000c0","opacity":1,"line":{"color":"black","strokeWidth":1}}},{"transform":[{"filter":"datum.s=='g'"}],"mark":{"type":"line","color":"#1aff1a","strokeWidth":2}}]},
   {"width":143,"height":100,"data":{"name":"h"},"transform":[{"filter":"datum.p=='a43'"},{"flatten":["x","y"]}],
    "encoding":{"x":{"field":"x","type":"quantitative","scale":{"type":"log","domain":[1,10000],"nice":false},"axis":{"title":null,"values":[1,2,3,4,5,6,7,8,9,10,20,30,40,50,60,70,80,90,100,200,300,400,500,600,700,800,900,1000,2000,3000,4000,5000,6000,7000,8000,9000,10000],"tickSize":{"condition":{"test":"indexof([1,10,100,1000,10000],datum.value)>=0","value":4},"value":2}}},
     "y":{"field":"y","type":"quantitative","scale":{"domain":[0,100],"nice":false},"axis":{"title":null,"values":[0,4,8,12,16,20,24,28,32,36,40,44,48,52,56,60,64,68,72,76,80,84,88,92,96,100],"tickSize":{"condition":{"test":"datum.value%20==0","value":5},"value":3}}}},
    "layer":[{"transform":[{"filter":"datum.s=='c'"}],"mark":{"type":"area","color":"#6000c0","opacity":1,"line":{"color":"black","strokeWidth":1}}},{"transform":[{"filter":"datum.s=='g'"}],"mark":{"type":"line","color":"#1aff1a","strokeWidth":2}}]},
   {"width":143,"height":100,"data":{"name":"h"},"transform":[{"filter":"datum.p=='a44'"},{"flatten":["x","y"]}],
    "encoding":{"x":{"field":"x","type":"quantitative","scale":{"type":"log","domain":[1,10000],"nice":false},"axis":{"title":null,"values":[1,2,3,4,5,6,7,8,9,10,20,30,40,50,60,70,80,90,100,200,300,400,500,600,700,800,900,1000,2000,3000,4000,5000,6000,7000,8000,9000,10000],"tickSize":{"condition":{"test":"indexof([1,10,100,1000,10000],datum.value)>=0","value":4},"value":2}}},
     "y":{"field":"y","type":"quantitative","scale":{"domain":[0,100],"nice":false},"axis":{"title":null,"values":[0,4,8,12,16,20,24,28,32,36,40,44,48,52,56,60,64,68,72,76,80,84,88,92,96,100],"tickSize":{"condition":{"test":"datum.value%20==0","value":5},"value":3}}}},
    "layer":[{"transform":[{"filter":"datum.s=='c'"}],"mark":{"type":"area","color":"#6000c0","opacity":1,"line":{"color":"black","strokeWidth":1}}},{"transform":[{"filter":"datum.s=='g'"}],"mark":{"type":"line","color":"#1aff1a","strokeWidth":2}}]},

   {"width":143,"height":100,"data":{"name":"h"},"transform":[{"filter":"datum.p=='a51'"},{"flatten":["x","y"]}],
    "encoding":{"x":{"field":"x","type":"quantitative","scale":{"type":"log","domain":[1,10000],"nice":false},"axis":{"title":null,"values":[1,2,3,4,5,6,7,8,9,10,20,30,40,50,60,70,80,90,100,200,300,400,500,600,700,800,900,1000,2000,3000,4000,5000,6000,7000,8000,9000,10000],"tickSize":{"condition":{"test":"indexof([1,10,100,1000,10000],datum.value)>=0","value":4},"value":2},"labels":true,"labelExpr":"datum.value==1?'10⁰':datum.value==10?'10¹':datum.value==100?'10²':datum.value==1000?'10³':datum.value==10000?'10⁴':''","labelFontSize":7,"labelPadding":4,"labelOverlap":false,"labelFlush":false}},
     "y":{"field":"y","type":"quantitative","scale":{"domain":[0,100],"nice":false},"axis":{"title":"BMD30","titleAngle":0,"titleAlign":"right","titleBaseline":"middle","titleX":-28,"titleY":53,"titleFontSize":11.5,"values":[0,4,8,12,16,20,24,28,32,36,40,44,48,52,56,60,64,68,72,76,80,84,88,92,96,100],"tickSize":{"condition":{"test":"datum.value%20==0","value":5},"value":3}}}},
    "layer":[{"transform":[{"filter":"datum.s=='c'"}],"mark":{"type":"area","color":"#6000c0","opacity":1,"line":{"color":"black","strokeWidth":1}}},{"transform":[{"filter":"datum.s=='g'"}],"mark":{"type":"line","color":"#1aff1a","strokeWidth":2}}]},
   {"width":143,"height":100,"data":{"name":"h"},"transform":[{"filter":"datum.p=='a52'"},{"flatten":["x","y"]}],
    "encoding":{"x":{"field":"x","type":"quantitative","scale":{"type":"log","domain":[1,10000],"nice":false},"axis":{"title":null,"values":[1,2,3,4,5,6,7,8,9,10,20,30,40,50,60,70,80,90,100,200,300,400,500,600,700,800,900,1000,2000,3000,4000,5000,6000,7000,8000,9000,10000],"tickSize":{"condition":{"test":"indexof([1,10,100,1000,10000],datum.value)>=0","value":4},"value":2}}},
     "y":{"field":"y","type":"quantitative","scale":{"domain":[0,100],"nice":false},"axis":{"title":null,"values":[0,4,8,12,16,20,24,28,32,36,40,44,48,52,56,60,64,68,72,76,80,84,88,92,96,100],"tickSize":{"condition":{"test":"datum.value%20==0","value":5},"value":3}}}},
    "layer":[{"transform":[{"filter":"datum.s=='c'"}],"mark":{"type":"area","color":"#6000c0","opacity":1,"line":{"color":"black","strokeWidth":1}}},{"transform":[{"filter":"datum.s=='g'"}],"mark":{"type":"line","color":"#1aff1a","strokeWidth":2}}]},
   {"width":143,"height":100,"data":{"name":"h"},"transform":[{"filter":"datum.p=='a53'"},{"flatten":["x","y"]}],
    "encoding":{"x":{"field":"x","type":"quantitative","scale":{"type":"log","domain":[1,10000],"nice":false},"axis":{"title":null,"values":[1,2,3,4,5,6,7,8,9,10,20,30,40,50,60,70,80,90,100,200,300,400,500,600,700,800,900,1000,2000,3000,4000,5000,6000,7000,8000,9000,10000],"tickSize":{"condition":{"test":"indexof([1,10,100,1000,10000],datum.value)>=0","value":4},"value":2}}},
     "y":{"field":"y","type":"quantitative","scale":{"domain":[0,100],"nice":false},"axis":{"title":null,"values":[0,4,8,12,16,20,24,28,32,36,40,44,48,52,56,60,64,68,72,76,80,84,88,92,96,100],"tickSize":{"condition":{"test":"datum.value%20==0","value":5},"value":3}}}},
    "layer":[{"transform":[{"filter":"datum.s=='c'"}],"mark":{"type":"area","color":"#6000c0","opacity":1,"line":{"color":"black","strokeWidth":1}}},{"transform":[{"filter":"datum.s=='g'"}],"mark":{"type":"line","color":"#1aff1a","strokeWidth":2}}]},
   {"width":143,"height":100,"data":{"name":"h"},"transform":[{"filter":"datum.p=='a54'"},{"flatten":["x","y"]}],
    "encoding":{"x":{"field":"x","type":"quantitative","scale":{"type":"log","domain":[1,10000],"nice":false},"axis":{"title":null,"values":[1,2,3,4,5,6,7,8,9,10,20,30,40,50,60,70,80,90,100,200,300,400,500,600,700,800,900,1000,2000,3000,4000,5000,6000,7000,8000,9000,10000],"tickSize":{"condition":{"test":"indexof([1,10,100,1000,10000],datum.value)>=0","value":4},"value":2}}},
     "y":{"field":"y","type":"quantitative","scale":{"domain":[0,100],"nice":false},"axis":{"title":null,"values":[0,4,8,12,16,20,24,28,32,36,40,44,48,52,56,60,64,68,72,76,80,84,88,92,96,100],"tickSize":{"condition":{"test":"datum.value%20==0","value":5},"value":3}}}},
    "layer":[{"transform":[{"filter":"datum.s=='c'"}],"mark":{"type":"area","color":"#6000c0","opacity":1,"line":{"color":"black","strokeWidth":1}}},{"transform":[{"filter":"datum.s=='g'"}],"mark":{"type":"line","color":"#1aff1a","strokeWidth":2}}]}
  ]
 },
 {
  "title": {"text": "B", "anchor": "start", "fontSize": 23, "dx": -25, "dy": 10, "offset": 0},
  "spacing": 10,
  "vconcat": [
   {
    "title": {"text": "CHO/DC-SIGN", "fontSize": 19, "dx": 190, "offset": 1},
    "spacing": 30,
    "hconcat": [
     {"width":166,"height":125,"title":{"text":"MFI = 6.8","anchor":"end","frame":"group","fontSize":14,"offset":0,"dx":-8,"dy":33},
      "data":{"name":"h"},"transform":[{"filter":"datum.p=='b1'"},{"flatten":["x","y"]}],
      "encoding":{"x":{"field":"x","type":"quantitative","scale":{"type":"log","domain":[1,10000],"nice":false},"axis":{"title":["BMD30-biotin","(10 µg/ml)"],"titleFontSize":17,"titlePadding":19,"titleLineHeight":20,"values":[1,2,3,4,5,6,7,8,9,10,20,30,40,50,60,70,80,90,100,200,300,400,500,600,700,800,900,1000,2000,3000,4000,5000,6000,7000,8000,9000,10000],"tickSize":{"condition":{"test":"indexof([1,10,100,1000,10000],datum.value)>=0","value":4},"value":2},"labels":true,"labelExpr":"datum.value==1?'10⁰':datum.value==10?'10¹':datum.value==100?'10²':datum.value==1000?'10³':datum.value==10000?'10⁴':''","labelFontSize":7,"labelPadding":4,"labelOverlap":false,"labelFlush":false}},
       "y":{"field":"y","type":"quantitative","scale":{"domain":[0,100],"nice":false},"axis":{"title":"1st :","titleAngle":0,"titleAlign":"left","titleBaseline":"middle","titleX":-76,"titleY":167,"titleFontSize":13,"values":[0,4,8,12,16,20,24,28,32,36,40,44,48,52,56,60,64,68,72,76,80,84,88,92,96,100],"tickSize":{"condition":{"test":"datum.value%20==0","value":5},"value":3}}}},
      "layer":[
       {"transform":[{"filter":"datum.s=='c'"}],"mark":{"type":"area","color":"#6000c0","opacity":1,"line":{"color":"black","strokeWidth":1}}},
       {"transform":[{"filter":"datum.s=='g'"}],"mark":{"type":"line","color":"#1aff1a","strokeWidth":2}}
      ]},
     {"width":166,"height":125,"title":{"text":"MFI = 67","anchor":"end","frame":"group","fontSize":14,"offset":0,"dx":-7,"dy":33},
      "data":{"name":"h"},"transform":[{"filter":"datum.p=='b2'"},{"flatten":["x","y"]}],
      "encoding":{"x":{"field":"x","type":"quantitative","scale":{"type":"log","domain":[1,10000],"nice":false},"axis":{"title":["MMD3-biotin","(10 µg/ml)"],"titleFontSize":17,"titlePadding":19,"titleLineHeight":20,"values":[1,2,3,4,5,6,7,8,9,10,20,30,40,50,60,70,80,90,100,200,300,400,500,600,700,800,900,1000,2000,3000,4000,5000,6000,7000,8000,9000,10000],"tickSize":{"condition":{"test":"indexof([1,10,100,1000,10000],datum.value)>=0","value":4},"value":2},"labels":true,"labelExpr":"datum.value==1?'10⁰':datum.value==10?'10¹':datum.value==100?'10²':datum.value==1000?'10³':datum.value==10000?'10⁴':''","labelFontSize":7,"labelPadding":4,"labelOverlap":false,"labelFlush":false}},
       "y":{"field":"y","type":"quantitative","scale":{"domain":[0,100],"nice":false},"axis":{"title":null,"values":[0,4,8,12,16,20,24,28,32,36,40,44,48,52,56,60,64,68,72,76,80,84,88,92,96,100],"tickSize":{"condition":{"test":"datum.value%20==0","value":5},"value":3}}}},
      "layer":[
       {"transform":[{"filter":"datum.s=='c'"}],"mark":{"type":"area","color":"#6000c0","opacity":1,"line":{"color":"black","strokeWidth":1}}},
       {"transform":[{"filter":"datum.s=='g'"}],"mark":{"type":"line","color":"#1aff1a","strokeWidth":2}}
      ]}
    ]
   },
   {"width":375,"height":10,"view":{"stroke":null},"data":{"name":"arrow"},
    "encoding":{"x":{"field":"t","type":"quantitative","scale":{"domain":[0,1]},"axis":{"title":"Streptavidin-PE","titleFontSize":17,"titlePadding":10,"ticks":false,"labels":false}},
     "y":{"datum":0,"type":"quantitative","scale":{"domain":[-1,1]},"axis":{"title":"2nd :","titleAngle":0,"titleAlign":"left","titleBaseline":"middle","titleX":-76,"titleY":27,"titleFontSize":13,"ticks":false,"labels":false}}},
    "layer":[
     {"transform":[{"filter":"datum.k=='s'"}],"mark":{"type":"line","color":"black","strokeWidth":2}},
     {"transform":[{"filter":"datum.k=='h'"}],"mark":{"type":"point","shape":"triangle-right","filled":true,"color":"black","opacity":1,"size":100}}
    ]}
  ]
 }
]
}
